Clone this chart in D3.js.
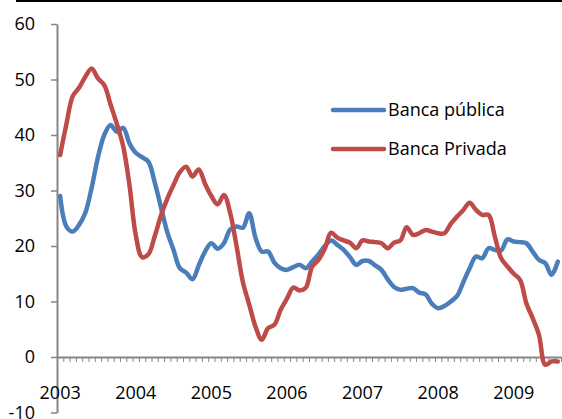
<!DOCTYPE html>
<html>
<head>
<meta charset="utf-8">
<script src="https://cdn.jsdelivr.net/npm/d3@7"></script>
<style>
  html, body { margin: 0; padding: 0; background: #fff; }
  svg { display: block; font-family: "Open Sans", "Noto Sans", sans-serif; }
</style>
</head>
<body>
<div id="chart"></div>
<script>
// séries mensais, jan/2003 .. ago/2009
const yearLabels = ["2003", "2004", "2005", "2006", "2007", "2008", "2009"];
const yTicks = [-10, 0, 10, 20, 30, 40, 50, 60];

const bancaPublica = [
  29, 23.5, 22.6, 23.8, 26, 30.5, 36, 40, 41.8, 40.6, 41.3, 38.5,
  36.8, 36, 35.2, 31.5, 27, 22.5, 19.3, 16, 15.2, 14, 16.5, 19,
  20.5, 19.5, 20.5, 23, 23.5, 23.3, 25.9, 21.5, 19, 19, 17, 16,
  15.7, 16.2, 16.6, 16, 17.2, 18.5, 20, 21, 20.2, 19.3, 18, 16.6,
  17.3, 17.3, 16.5, 15.7, 14, 12.6, 12.1, 12.3, 12.4, 11.6, 11.3, 9.6,
  8.8, 9.2, 10, 11, 13.5, 16, 18.1, 17.8, 19.6, 19.3, 19.2, 21.2,
  20.8, 20.7, 20.5, 19, 17.5, 16.9, 14.8, 17.2
];

const bancaPrivada = [
  36.4, 42, 47, 48.5, 50.5, 52, 50.2, 49, 45.5, 42, 38, 31,
  22, 18, 18.5, 21.7, 25.5, 28.5, 31, 33.3, 34.3, 32.5, 33.8, 31.2,
  29, 27.5, 29.2, 25.9, 20, 13.5, 9.5, 5.5, 3.1, 5.2, 5.8, 8.5,
  10.5, 12.5, 12, 12.5, 16.3, 17.5, 19.5, 22.4, 21.5, 21, 20.6, 19.6,
  21, 20.8, 20.7, 20.5, 19.6, 20.6, 21, 23.4, 22, 22.3, 22.9, 22.6,
  22.3, 22.3, 24, 25.3, 26.5, 27.8, 26.5, 25.6, 25.6, 21.7, 17.8, 16.3,
  15, 13.9, 9.7, 7, 4, -1.4, -0.8, -0.8
];

const seriesList = [
  { name: "Banca pública", values: bancaPublica, color: "#4a7ebb" },
  { name: "Banca Privada", values: bancaPrivada, color: "#be4b48" }
];

const W = 562, H = 419;
const axisColor = "#868686";
const nMonths = bancaPublica.length;

const svg = d3.select("#chart").append("svg")
  .attr("width", W).attr("height", H);

// linha preta no topo
svg.append("line")
  .attr("x1", 16).attr("x2", W).attr("y1", 1).attr("y2", 1)
  .attr("stroke", "#000").attr("stroke-width", 2);

const x = d3.scaleLinear().domain([0, nMonths]).range([57, 561]);
const y = d3.scaleLinear().domain([-10, 60]).range([412.5, 24]);

// eixo y
const yAxis = svg.append("g")
  .attr("transform", `translate(${x(0)},0)`)
  .call(d3.axisLeft(y).tickValues(yTicks).tickFormat(d => String(d))
    .tickSize(6).tickPadding(16).tickSizeOuter(0));
yAxis.select(".domain").attr("stroke", axisColor).attr("stroke-width", 2);
yAxis.selectAll("line").attr("stroke", axisColor).attr("stroke-width", 1.5);
yAxis.selectAll("text").attr("fill", "#000").attr("font-size", 18)
  .attr("font-family", "'Open Sans', sans-serif");

// rótulos dos anos
svg.append("g").selectAll("text")
  .data(yearLabels)
  .join("text")
  .attr("x", (d, i) => x(i * 12 + 0.5))
  .attr("y", 399)
  .attr("text-anchor", "middle")
  .attr("font-size", 18)
  .attr("fill", "#000")
  .text(d => d);

// eixo x em zero, com marcas mensais
const xAxis = svg.append("g")
  .attr("transform", `translate(0,${y(0)})`)
  .call(d3.axisBottom(x).tickValues(d3.range(0, nMonths + 1)).tickSize(5).tickFormat("").tickSizeOuter(0));
xAxis.select(".domain").attr("stroke", axisColor).attr("stroke-width", 2);
xAxis.selectAll("line").attr("stroke", axisColor).attr("stroke-width", 1);

const line = d3.line()
  .x((d, i) => x(i + 0.5))
  .y(d => y(d))
  .curve(d3.curveCatmullRom.alpha(0.5));

seriesList.forEach(s => {
  svg.append("path")
    .datum(s.values)
    .attr("fill", "none")
    .attr("stroke", s.color)
    .attr("stroke-width", 4.5)
    .attr("stroke-linejoin", "round")
    .attr("stroke-linecap", "round")
    .attr("d", line);
});

// legenda
const legend = svg.append("g");
seriesList.forEach((s, i) => {
  const ly = 110 + i * 39;
  legend.append("line")
    .attr("x1", 333).attr("x2", 384).attr("y1", ly).attr("y2", ly)
    .attr("stroke", s.color).attr("stroke-width", 4.5).attr("stroke-linecap", "round");
  legend.append("text")
    .attr("x", 388).attr("y", ly).attr("dy", "0.35em")
    .attr("font-size", 18).attr("fill", "#000")
    .text(s.name);
});
</script>
</body>
</html>
